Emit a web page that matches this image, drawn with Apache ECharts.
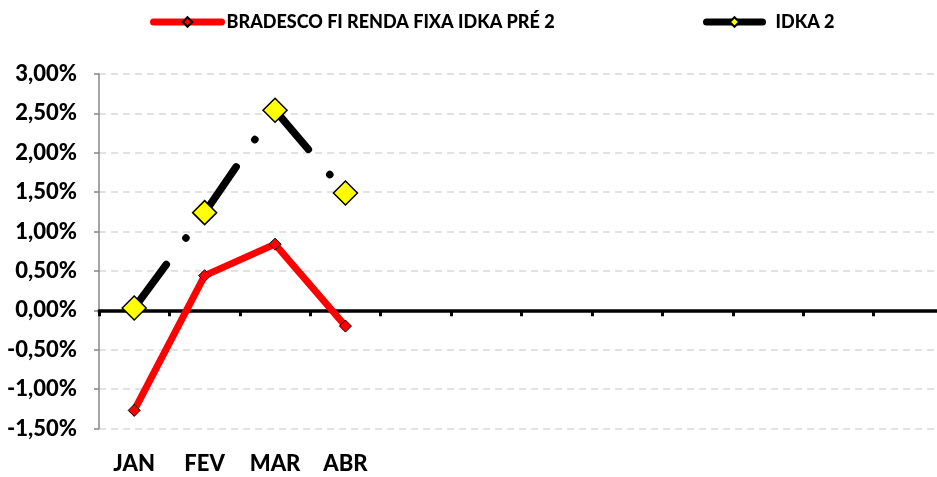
<!DOCTYPE html>
<html>
<head>
<meta charset="utf-8">
<script src="https://cdn.jsdelivr.net/npm/echarts@6/dist/echarts.min.js"></script>
<style>
    html, body { margin: 0; padding: 0; background: #fff; }
    #chart { width: 937px; height: 477px; }
</style>
</head>
<body>
<div id="chart"></div>
<script>
// months shown on the axis (the rest of the year is still empty)
const months = ['JAN', 'FEV', 'MAR', 'ABR', '', '', '', '', '', '', '', '']
const fundName = 'BRADESCO FI RENDA FIXA IDKA PRÉ 2'
const benchName = 'IDKA 2'
// monthly return, in %
const fundValues = [-1.27, 0.44, 0.84, -0.20]
const benchValues = [0.03, 1.24, 2.54, 1.49]

const font = 'Lato, "Open Sans", sans-serif'
const legendText = { fontFamily: font, fontWeight: 900, fontSize: 18, color: '#000' }

const chart = echarts.init(document.getElementById('chart'))

chart.setOption({
    animation: false,
    backgroundColor: '#fff',
    legend: [
        {
            left: 150,
            top: 13,
            padding: 0,
            itemWidth: 68,
            itemHeight: 12,
            lineStyle: { width: 7, cap: 'round', type: 'solid' },
            textStyle: legendText,
            data: [fundName]
        },
        {
            left: 703,
            top: 13,
            padding: 0,
            itemWidth: 56,
            itemHeight: 12,
            lineStyle: { width: 7, cap: 'round', type: 'solid' },
            textStyle: Object.assign({ padding: [0, 0, 0, 8] }, legendText),
            data: [benchName]
        }
    ],
    grid: { left: 99, top: 74, width: 845, bottom: 48.5, outerBoundsMode: 'none', containLabel: false },
    xAxis: [
        {
            type: 'category',
            data: months,
            axisLine: { onZero: true, lineStyle: { color: '#000', width: 3.5 } },
            axisTick: { show: true, length: 6, lineStyle: { color: '#000', width: 3 } },
            axisLabel: { show: false },
            splitLine: { show: false }
        },
        {
            type: 'category',
            data: months,
            position: 'bottom',
            axisLine: { show: false, onZero: false },
            axisTick: { show: false },
            axisLabel: {
                interval: 0,
                margin: 24,
                fontFamily: font,
                fontWeight: 900,
                fontSize: 22,
                color: '#000'
            }
        }
    ],
    yAxis: {
        type: 'value',
        min: -1.5,
        max: 3,
        interval: 0.5,
        axisLine: { show: true, lineStyle: { color: '#868686', width: 1.5 } },
        axisTick: { show: true, length: 5, lineStyle: { color: '#868686', width: 1.5 } },
        axisLabel: {
            margin: 22,
            fontFamily: font,
            fontWeight: 900,
            fontSize: 22,
            color: '#000',
            formatter: v => v.toFixed(2).replace('.', ',') + '%'
        },
        splitLine: { lineStyle: { color: '#d9d9d9', width: 1.5, type: [7, 5] } }
    },
    series: [
        {
            name: benchName,
            type: 'line',
            data: benchValues,
            symbol: 'diamond',
            symbolSize: 24,
            lineStyle: { color: '#000', width: 7.5, type: [54, 33, 0.1, 33], cap: 'round' },
            itemStyle: { color: '#ffff00', borderColor: '#000', borderWidth: 1.5 },
            z: 2
        },
        {
            name: fundName,
            type: 'line',
            data: fundValues,
            symbol: 'diamond',
            symbolSize: 12,
            lineStyle: { color: '#ff0000', width: 7 },
            itemStyle: { color: '#ff0000', borderColor: '#000', borderWidth: 1 },
            z: 3
        }
    ]
})
</script>
</body>
</html>
